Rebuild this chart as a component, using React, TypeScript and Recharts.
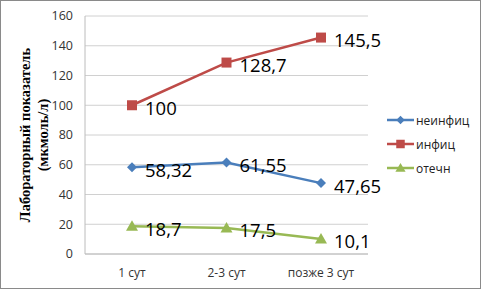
import React from 'react';
import { LineChart, Line, XAxis, YAxis, CartesianGrid, Legend, LabelList } from 'recharts';

const periods = ['1 сут', '2-3 сут', 'позже 3 сут'];
const neinfic = [58.32, 61.55, 47.65];
const infic = [100, 128.7, 145.5];
const otechn = [18.7, 17.5, 10.1];
const yTicks = [0, 20, 40, 60, 80, 100, 120, 140, 160];

const data = periods.map((name, i) => ({
    name,
    neinfic: neinfic[i],
    infic: infic[i],
    otechn: otechn[i],
}));

const series = [
    { key: 'neinfic', name: 'неинфиц', color: '#4a7ebb', shape: 'diamond' },
    { key: 'infic', name: 'инфиц', color: '#be4b48', shape: 'square' },
    { key: 'otechn', name: 'отечн', color: '#98b954', shape: 'triangle' },
];

const font = '"Open Sans", "Noto Sans", sans-serif';

function Marker({ shape, color, x, y, s = 1 }: any) {
    if (shape === 'diamond') {
        const r = 5 * s;
        return <polygon points={`${x},${y - r} ${x + r},${y} ${x},${y + r} ${x - r},${y}`} fill={color} />;
    }
    if (shape === 'square') {
        const r = 5 * s;
        return <rect x={x - r} y={y - r} width={2 * r} height={2 * r} fill={color} />;
    }
    const r = 6 * s;
    return <polygon points={`${x},${y - r} ${x + r},${y + r * 0.75} ${x - r},${y + r * 0.75}`} fill={color} />;
}

const makeDot = (shape: string, color: string) => (props: any) => {
    const { cx, cy, index } = props;
    return <Marker key={index} shape={shape} color={color} x={cx} y={cy} />;
};

const renderValue = (props: any) => {
    const { x, y, value } = props;
    return (
        <text x={x + 13} y={y + 2} dominantBaseline="central" fontSize={18.5} fontFamily={font} fill="#000">
            {String(value).replace('.', ',')}
        </text>
    );
};

function LegendBox() {
    return (
        <div style={{ fontFamily: font, fontSize: 12, color: '#222' }}>
            {series.map((s) => (
                <div key={s.key} style={{ height: 24, display: 'flex', alignItems: 'center' }}>
                    <svg width={30} height={14}>
                        <line x1={1} y1={7} x2={28} y2={7} stroke={s.color} strokeWidth={2.5} />
                        <Marker shape={s.shape} color={s.color} x={14.5} y={7} s={0.85} />
                    </svg>
                    <span>{s.name}</span>
                </div>
            ))}
        </div>
    );
}

const YTitle = () => {
    const cy = 135;
    return (
        <g fontFamily='"Liberation Serif", serif' fontWeight="bold" fontSize={14.5} fill="#000">
            <text x={25} y={cy} transform={`rotate(-90 25 ${cy})`} textAnchor="middle" dominantBaseline="central">
                Лабораторный показатель
            </text>
            <text x={43} y={cy} transform={`rotate(-90 43 ${cy})`} textAnchor="middle" dominantBaseline="central">
                (мкмоль/л)
            </text>
        </g>
    );
};

export default function App() {
    return (
        <div style={{ position: 'fixed', left: 0, top: 0, width: 481, height: 289, background: '#fff' }}>
            <LineChart width={481} height={289} data={data} margin={{ top: 16, right: 113, bottom: 5, left: 35 }}>
                <CartesianGrid vertical={false} stroke="#d0d0d0" />
                <XAxis
                    dataKey="name"
                    padding={{ left: 47, right: 47 }}
                    height={30}
                    tickLine={false}
                    tickSize={0}
                    tickMargin={14}
                    axisLine={{ stroke: '#bcbcbc' }}
                    tick={{ fontSize: 12, fontFamily: font, fill: '#333' }}
                />
                <YAxis
                    width={50}
                    domain={[0, 160]}
                    ticks={yTicks}
                    tickLine={false}
                    tickSize={0}
                    tickMargin={12}
                    axisLine={{ stroke: '#bcbcbc' }}
                    tick={{ fontSize: 12.5, fontFamily: font, fill: '#333' }}
                    label={{ content: YTitle }}
                />
                <Legend
                    layout="vertical"
                    align="center"
                    verticalAlign="middle"
                    wrapperStyle={{ left: 386, top: 108, width: 95 }}
                    content={() => <LegendBox />}
                />
                {series.map((s) => (
                    <Line
                        key={s.key}
                        dataKey={s.key}
                        name={s.name}
                        stroke={s.color}
                        strokeWidth={2.5}
                        dot={makeDot(s.shape, s.color)}
                        activeDot={false}
                        isAnimationActive={false}
                    >
                        <LabelList dataKey={s.key} content={renderValue} />
                    </Line>
                ))}
            </LineChart>
            <div style={{ position: 'absolute', inset: 0, border: '1px solid #8a8a8a', pointerEvents: 'none' }} />
        </div>
    );
}
